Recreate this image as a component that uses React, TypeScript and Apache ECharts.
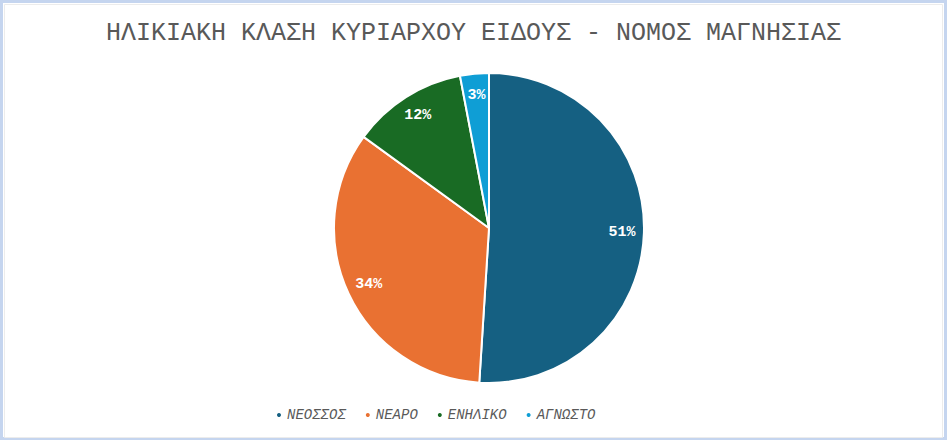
import React, { useEffect, useRef } from "react";
import * as echarts from "echarts";

const categories = ["ΝΕΟΣΣΟΣ", "ΝΕΑΡΟ", "ΕΝΗΛΙΚΟ", "ΑΓΝΩΣΤΟ"];
const values = [51, 34, 12, 3];
const colors = ["#156082", "#E97132", "#196B24", "#0F9ED5"];
const titleText = "ΗΛΙΚΙΑΚΗ ΚΛΑΣΗ ΚΥΡΙΑΡΧΟΥ ΕΙΔΟΥΣ - ΝΟΜΟΣ ΜΑΓΝΗΣΙΑΣ";

const MONO = "'Liberation Mono', 'DejaVu Sans Mono', monospace";

export default function App() {
  const ref = useRef<HTMLDivElement>(null);
  useEffect(() => {
    document.body.style.margin = "0";
    if (!ref.current) return;
    const chart = echarts.init(ref.current, null, { renderer: "svg" });
    const data = categories.map((name, i) => ({
      name,
      value: values[i],
      itemStyle: { color: colors[i] },
    }));
    chart.setOption({
      animation: false,
      backgroundColor: "#ffffff",
      title: {
        text: titleText,
        left: "center",
        top: 16,
        textStyle: {
          fontFamily: MONO,
          fontSize: 25,
          fontWeight: "normal",
          color: "#595959",
        },
      },
      legend: {
        data: categories,
        left: 270,
        top: 403,
        icon: "circle",
        itemWidth: 6,
        itemHeight: 6,
        itemGap: 18,
        textStyle: {
          fontFamily: MONO,
          fontStyle: "italic",
          fontSize: 14,
          color: "#595959",
        },
      },
      graphic: [
        {
          type: "rect",
          shape: { x: 1.5, y: 1.5, width: 944, height: 437 },
          style: { fill: "none", stroke: "#c5d5ef", lineWidth: 3 },
          silent: true,
        },
        {
          type: "rect",
          shape: { x: 4.5, y: 4.5, width: 938, height: 433 },
          style: { fill: "none", stroke: "#ececec", lineWidth: 1 },
          silent: true,
        },
      ],
      series: [
        {
          type: "pie",
          center: [489, 228],
          radius: [0, 155],
          startAngle: 90,
          clockwise: true,
          data,
          label: { show: false },
          labelLine: { show: false },
          itemStyle: { borderColor: "#ffffff", borderWidth: 2 },
          emphasis: { disabled: true },
          silent: true,
        },
        {
          type: "pie",
          center: [489, 228],
          radius: [0, 260],
          startAngle: 90,
          clockwise: true,
          data: categories.map((name, i) => ({
            name,
            value: values[i],
            itemStyle: { color: "rgba(0,0,0,0)" },
          })),
          label: {
            show: true,
            position: "inside",
            formatter: "{c}%",
            color: "#ffffff",
            fontFamily: MONO,
            fontWeight: "bold",
            fontSize: 15,
          },
          labelLine: { show: false },
          emphasis: { disabled: true },
          silent: true,
          z: 3,
        },
      ],
    });
    return () => chart.dispose();
  }, []);
  return <div ref={ref} style={{ width: 947, height: 440 }} />;
}
